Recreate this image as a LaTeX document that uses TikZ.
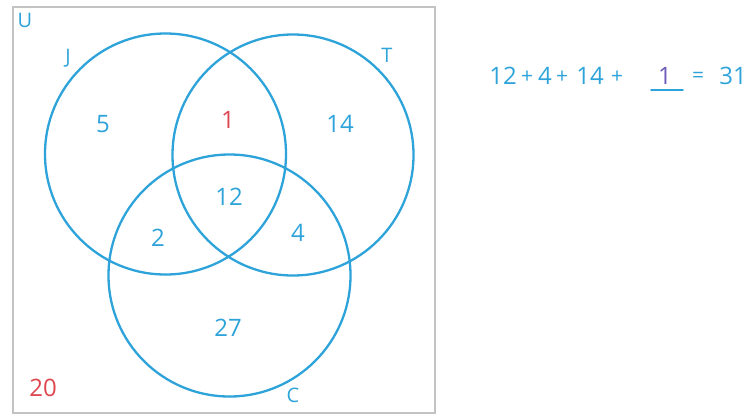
\documentclass[tikz,border=0pt]{standalone}
\usepackage{fontspec}
\setmainfont{Open Sans}
\definecolor{vblue}{RGB}{45,163,218}
\definecolor{vred}{RGB}{222,70,80}
\definecolor{vpurple}{RGB}{110,90,185}
\definecolor{vgray}{RGB}{195,195,195}
\begin{document}
\begin{tikzpicture}[x=1pt,y=-1pt,
  setcircle/.style={draw=vblue,line width=2.3pt},
  num/.style={text=vblue,font=\fontsize{24}{28}\selectfont,inner sep=0pt},
  op/.style={text=vblue,font=\fontsize{21}{24}\selectfont,inner sep=0pt},
  lbl/.style={text=vblue,font=\fontsize{20}{24}\selectfont,inner sep=0pt}]
\useasboundingbox (0,0) rectangle (750,416);
\draw[vgray,line width=1.8pt] (13,7) rectangle (435,413);
\draw[setcircle] (165.5,154) circle (120.5);
\draw[setcircle] (293,155) circle (120.5);
\draw[setcircle] (229.5,275.5) circle (121);
\node[lbl] (U) at (25,20) {U};
\node[lbl] (J) at (68,58) {J};
\node[lbl] (T) at (387,55) {T};
\node[lbl] (C) at (293,395) {C};
\node[num] (n5) at (103,124) {5};
\node[num,text=vred] (n1) at (228,120) {1};
\node[num] (n14) at (340,124) {14};
\node[num] (n12) at (229,197) {12};
\node[num] (n2) at (158,238) {2};
\node[num] (n4) at (298,233) {4};
\node[num] (n27) at (228,328) {27};
\node[num,text=vred] (n20) at (43,388) {20};
\node[num] (e1) at (503,76) {12};
\node[op] (e2) at (527,77) {+};
\node[num] (e3) at (545,76) {4};
\node[op] (e4) at (562,77) {+};
\node[num] (e5) at (590,76) {14};
\node[op] (e6) at (617,77) {+};
\node[num,text=vpurple] (e7) at (665,76) {1};
\coordinate (ua) at (651,90);
\coordinate (ub) at (683,90);
\draw[vblue,line width=1.6pt,line cap=round] (ua) -- (ub);
\node[op] (e8) at (698,77) {=};
\node[num] (e9) at (733,76) {31};
\end{tikzpicture}
\end{document}
